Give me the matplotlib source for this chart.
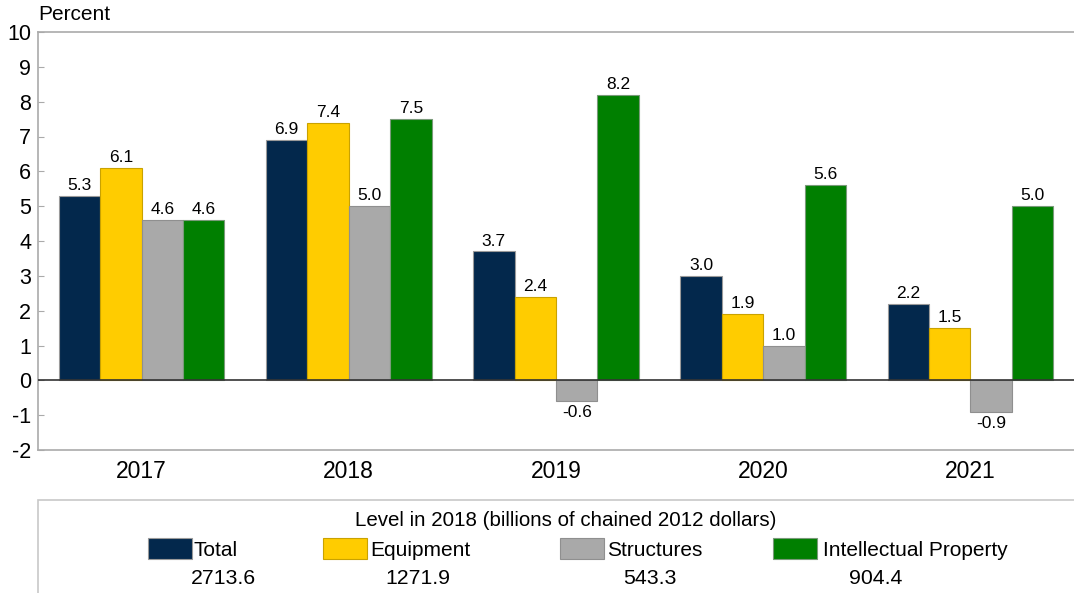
import matplotlib
matplotlib.use("Agg")
import matplotlib.pyplot as plt
import numpy as np
from matplotlib.patches import Rectangle

plt.rcParams['font.family'] = ['Liberation Sans', 'DejaVu Sans']
plt.rcParams['axes.unicode_minus'] = False

# growth rates by year, percent
years = ['2017', '2018', '2019', '2020', '2021']
series_names = ['Total', 'Equipment', 'Structures', 'Intellectual Property']
total = [5.3, 6.9, 3.7, 3.0, 2.2]
equipment = [6.1, 7.4, 2.4, 1.9, 1.5]
structures = [4.6, 5.0, -0.6, 1.0, -0.9]
intellectual = [4.6, 7.5, 8.2, 5.6, 5.0]
levels_2018 = ['2713.6', '1271.9', '543.3', '904.4']

colors = ['#03284c', '#ffcc00', '#a9a9a9', '#007f00']
edges = ['#9a9a9a', '#c9a200', '#8f8f8f', '#7a9a7a']

fig = plt.figure(figsize=(10.74, 5.93), dpi=100)
ax = fig.add_axes([38 / 1074, 1 - 450 / 593, 1 - 38 / 1074, (450 - 32) / 593])

x = np.arange(len(years))
width = 0.2
all_series = [total, equipment, structures, intellectual]
for i, vals in enumerate(all_series):
    pos = x + (i - 1.5) * width
    bars = ax.bar(pos, vals, width, color=colors[i], edgecolor=edges[i], linewidth=0.8, zorder=2)
    for b, v in zip(bars, vals):
        if v >= 0:
            ax.annotate(f'{v:.1f}', (b.get_x() + b.get_width() / 2, v), xytext=(0, 2),
                        textcoords='offset points', ha='center', va='bottom', fontsize=12.5)
        else:
            ax.annotate(f'{v:.1f}', (b.get_x() + b.get_width() / 2, v), xytext=(0, -3),
                        textcoords='offset points', ha='center', va='top', fontsize=12.5)

ax.axhline(0, color='#333333', linewidth=1.2, zorder=3)
ax.set_xlim(-0.5, 4.5)
ax.set_ylim(-2, 10)
ax.set_yticks(range(-2, 11))
ax.set_xticks(x)
ax.set_xticklabels(years)
ax.tick_params(axis='y', direction='in', length=4, color='#aaaaaa', labelsize=15.5, pad=5)
ax.tick_params(axis='x', length=0, labelsize=16.5, pad=7)
for s in ['left', 'top', 'bottom']:
    ax.spines[s].set_color('#aaaaaa')
    ax.spines[s].set_linewidth(1.2)
ax.spines['right'].set_visible(False)

fig.text(38 / 1074, 1 - 15 / 593, 'Percent', fontsize=15, ha='left', va='center')

# legend box below the plot
fig.patches.append(Rectangle((38 / 1074, -0.05), 1.0, 1 - 500 / 593 + 0.05, transform=fig.transFigure,
                             facecolor='white', edgecolor='#c8c8c8', linewidth=1.2))
fig.text(566 / 1074, 1 - 521 / 593, 'Level in 2018 (billions of chained 2012 dollars)',
         fontsize=14.8, ha='center', va='center')
swatch_x = [148, 323, 560, 773]
text_x = [194, 370, 607, 823]
value_x = [223, 418, 650, 876]
for i, name in enumerate(series_names):
    fig.patches.append(Rectangle((swatch_x[i] / 1074, 1 - 559 / 593), 44 / 1074, 21 / 593,
                                 transform=fig.transFigure, facecolor=colors[i],
                                 edgecolor=edges[i], linewidth=0.8))
    fig.text(text_x[i] / 1074, 1 - 550 / 593, name, fontsize=15, ha='left', va='center')
    fig.text(value_x[i] / 1074, 1 - 578 / 593, levels_2018[i], fontsize=15.3, ha='center', va='center')

fig.savefig('out.png', dpi=100)
